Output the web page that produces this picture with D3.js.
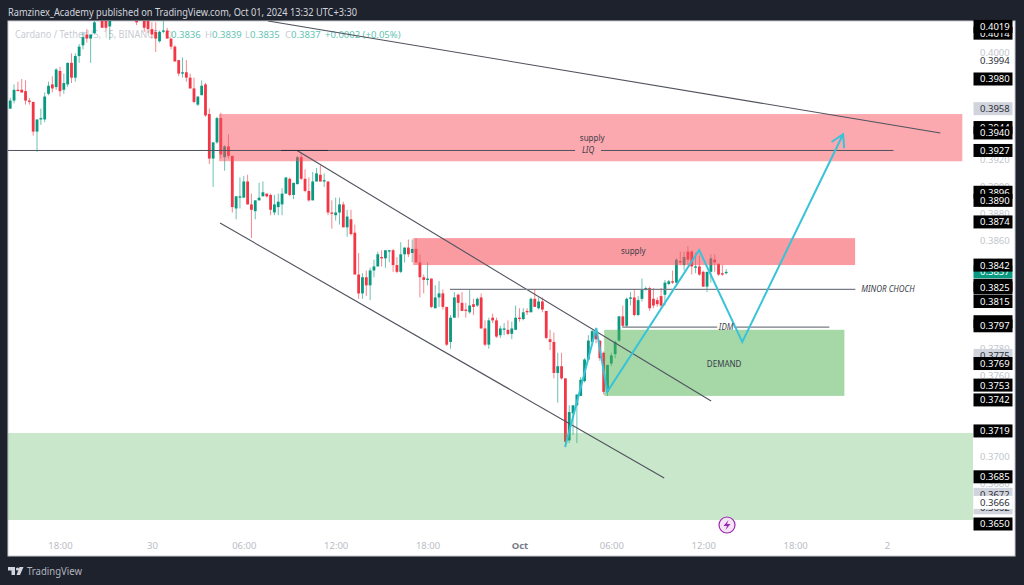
<!DOCTYPE html>
<html>
<head>
<meta charset="utf-8">
<script src="https://cdn.jsdelivr.net/npm/d3@7"></script>
<style>
  html, body { margin: 0; padding: 0; background: #1e222d; overflow: hidden; }
  text { font-family: "Noto Sans", sans-serif; }
</style>
</head>
<body>
<div id="my_dataviz"></div>
<script>
// 15 minute candles, first bar time and one row per bar: open, high, low, close
var firstBar = "2024-09-29T14:45Z";
var candles = [
[0.3958,0.3966,0.3958,0.3964],[0.3964,0.3976,0.3962,0.3972],[0.3972,0.3978,0.3971,0.3971],[0.3972,0.3980,0.3970,0.3970],
[0.3971,0.3979,0.3961,0.3964],[0.3964,0.3966,0.3961,0.3963],[0.3963,0.3963,0.3938,0.3941],[0.3941,0.3950,0.3926,0.3950],
[0.3950,0.3958,0.3946,0.3951],[0.3950,0.3970,0.3948,0.3967],[0.3969,0.3978,0.3968,0.3975],[0.3976,0.3982,0.3970,0.3973],
[0.3974,0.3988,0.3972,0.3987],[0.3986,0.3989,0.3967,0.3971],[0.3972,0.3984,0.3969,0.3977],[0.3976,0.3992,0.3974,0.3992],
[0.3992,0.3999,0.3977,0.3981],[0.3981,0.3999,0.3978,0.3997],[0.3997,0.4006,0.3992,0.4004],[0.4005,0.4015,0.4002,0.4011],
[0.4013,0.4017,0.4007,0.4010],[0.4010,0.4013,0.3992,0.4013],[0.4014,0.4030,0.4013,0.4022],[0.4025,0.4036,0.4024,0.4034],
[0.4036,0.4040,0.4018,0.4018],[0.4030,0.4035,0.4016,0.4018],[0.4019,0.4034,0.4009,0.4030],[0.4030,0.4048,0.4026,0.4044],
[0.4044,0.4056,0.4040,0.4052],[0.4052,0.4062,0.4046,0.4048],[0.4048,0.4058,0.4040,0.4044],[0.4044,0.4050,0.4036,0.4040],
[0.4040,0.4044,0.4030,0.4034],[0.4034,0.4038,0.4020,0.4022],[0.4030,0.4040,0.4026,0.4036],[0.4036,0.4040,0.4015,0.4018],
[0.4030,0.4034,0.4014,0.4017],[0.4017,0.4022,0.4010,0.4013],[0.4015,0.4022,0.4000,0.4010],[0.4008,0.4016,0.4007,0.4015],
[0.4015,0.4024,0.4014,0.4016],[0.4016,0.4018,0.4010,0.4010],[0.4010,0.4010,0.4002,0.4004],[0.4004,0.4005,0.3993,0.3993],
[0.3994,0.3994,0.3982,0.3984],[0.3984,0.3996,0.3981,0.3985],[0.3985,0.3994,0.3978,0.3981],[0.3981,0.3984,0.3973,0.3973],
[0.3973,0.3981,0.3962,0.3963],[0.3961,0.3967,0.3960,0.3967],[0.3968,0.3979,0.3968,0.3975],[0.3976,0.3977,0.3952,0.3953],
[0.3954,0.3958,0.3917,0.3921],[0.3921,0.3933,0.3900,0.3933],[0.3933,0.3952,0.3932,0.3951],[0.3951,0.3955,0.3921,0.3924],
[0.3922,0.3931,0.3912,0.3930],[0.3930,0.3939,0.3921,0.3923],[0.3923,0.3923,0.3881,0.3885],[0.3884,0.3893,0.3876,0.3893],
[0.3892,0.3907,0.3884,0.3893],[0.3892,0.3908,0.3892,0.3904],[0.3904,0.3909,0.3887,0.3887],[0.3887,0.3895,0.3862,0.3883],
[0.3882,0.3890,0.3876,0.3890],[0.3890,0.3903,0.3890,0.3892],[0.3893,0.3904,0.3893,0.3896],[0.3895,0.3895,0.3892,0.3893],
[0.3894,0.3895,0.3879,0.3883],[0.3881,0.3894,0.3879,0.3887],[0.3885,0.3895,0.3879,0.3889],[0.3887,0.3899,0.3879,0.3895],
[0.3895,0.3907,0.3895,0.3907],[0.3906,0.3907,0.3893,0.3894],[0.3894,0.3903,0.3891,0.3903],[0.3902,0.3923,0.3902,0.3922],
[0.3922,0.3925,0.3905,0.3906],[0.3906,0.3913,0.3896,0.3897],[0.3897,0.3907,0.3889,0.3890],[0.3890,0.3911,0.3890,0.3904],
[0.3904,0.3914,0.3904,0.3910],[0.3909,0.3916,0.3904,0.3904],[0.3904,0.3910,0.3900,0.3905],[0.3904,0.3904,0.3879,0.3881],
[0.3881,0.3890,0.3869,0.3880],[0.3879,0.3892,0.3875,0.3881],[0.3881,0.3892,0.3872,0.3887],[0.3887,0.3889,0.3870,0.3870],
[0.3870,0.3883,0.3863,0.3878],[0.3876,0.3883,0.3864,0.3865],[0.3866,0.3872,0.3835,0.3835],[0.3835,0.3851,0.3817,0.3821],
[0.3821,0.3836,0.3817,0.3833],[0.3833,0.3838,0.3819,0.3827],[0.3827,0.3840,0.3816,0.3838],[0.3838,0.3846,0.3833,0.3841],
[0.3841,0.3852,0.3841,0.3850],[0.3848,0.3853,0.3841,0.3847],[0.3847,0.3853,0.3840,0.3853],[0.3852,0.3853,0.3844,0.3853],
[0.3853,0.3854,0.3837,0.3842],[0.3842,0.3848,0.3836,0.3837],[0.3837,0.3859,0.3836,0.3850],[0.3850,0.3855,0.3844,0.3855],
[0.3855,0.3861,0.3848,0.3850],[0.3851,0.3861,0.3844,0.3854],[0.3854,0.3862,0.3844,0.3844],[0.3844,0.3850,0.3818,0.3833],
[0.3833,0.3835,0.3821,0.3831],[0.3831,0.3844,0.3827,0.3832],[0.3832,0.3832,0.3810,0.3811],[0.3810,0.3827,0.3810,0.3818],
[0.3818,0.3830,0.3811,0.3821],[0.3821,0.3824,0.3809,0.3811],[0.3811,0.3811,0.3782,0.3783],[0.3785,0.3805,0.3780,0.3803],
[0.3803,0.3822,0.3803,0.3818],[0.3820,0.3821,0.3803,0.3814],[0.3814,0.3822,0.3808,0.3808],[0.3809,0.3814,0.3803,0.3808],
[0.3807,0.3824,0.3806,0.3812],[0.3813,0.3817,0.3805,0.3811],[0.3812,0.3818,0.3811,0.3817],[0.3818,0.3821,0.3795,0.3795],
[0.3795,0.3801,0.3782,0.3783],[0.3783,0.3803,0.3780,0.3801],[0.3803,0.3806,0.3799,0.3801],[0.3801,0.3803,0.3788,0.3789],
[0.3790,0.3797,0.3788,0.3795],[0.3794,0.3799,0.3790,0.3795],[0.3794,0.3801,0.3790,0.3791],[0.3791,0.3800,0.3787,0.3795],
[0.3794,0.3812,0.3794,0.3803],[0.3803,0.3810,0.3800,0.3802],[0.3802,0.3810,0.3801,0.3807],[0.3808,0.3810,0.3805,0.3807],
[0.3807,0.3818,0.3807,0.3817],[0.3817,0.3824,0.3811,0.3811],[0.3810,0.3818,0.3809,0.3815],[0.3815,0.3818,0.3807,0.3809],
[0.3808,0.3808,0.3787,0.3788],[0.3787,0.3794,0.3779,0.3785],[0.3785,0.3792,0.3758,0.3762],[0.3762,0.3777,0.3740,0.3767],
[0.3767,0.3777,0.3757,0.3758],[0.3758,0.3758,0.3707,0.3711],[0.3712,0.3738,0.3710,0.3733],[0.3732,0.3738,0.3716,0.3738],
[0.3738,0.3746,0.3710,0.3746],[0.3745,0.3759,0.3745,0.3757],[0.3756,0.3773,0.3755,0.3772],[0.3772,0.3790,0.3772,0.3786],
[0.3785,0.3794,0.3785,0.3793],[0.3793,0.3795,0.3784,0.3787],[0.3786,0.3786,0.3771,0.3773],[0.3777,0.3778,0.3746,0.3748],
[0.3748,0.3768,0.3745,0.3768],[0.3769,0.3777,0.3767,0.3775],[0.3776,0.3786,0.3773,0.3785],[0.3786,0.3804,0.3785,0.3804],
[0.3804,0.3812,0.3796,0.3797],[0.3797,0.3818,0.3796,0.3817],[0.3817,0.3822,0.3812,0.3818],[0.3818,0.3824,0.3804,0.3805],
[0.3805,0.3819,0.3804,0.3816],[0.3817,0.3832,0.3815,0.3824],[0.3824,0.3826,0.3823,0.3825],[0.3825,0.3826,0.3808,0.3810],
[0.3817,0.3825,0.3810,0.3812],[0.3816,0.3818,0.3811,0.3813],[0.3819,0.3825,0.3810,0.3812],[0.3820,0.3831,0.3812,0.3829],
[0.3828,0.3831,0.3827,0.3830],[0.3830,0.3838,0.3828,0.3829],[0.3829,0.3847,0.3828,0.3846],[0.3845,0.3852,0.3842,0.3844],
[0.3842,0.3852,0.3838,0.3848],[0.3852,0.3856,0.3842,0.3846],[0.3852,0.3853,0.3835,0.3841],[0.3840,0.3851,0.3836,0.3841],
[0.3841,0.3849,0.3834,0.3835],[0.3837,0.3838,0.3826,0.3826],[0.3826,0.3837,0.3822,0.3837],[0.3837,0.3850,0.3829,0.3847],
[0.3846,0.3850,0.3837,0.3844],[0.3843,0.3843,0.3834,0.3835],[0.3836,0.3842,0.3834,0.3835],[0.3836,0.3839,0.3835,0.3837]
];

// Price scale labels
var priceTicks = [0.4000, 0.3920, 0.3900, 0.3880, 0.3860, 0.3780, 0.3760, 0.3700, 0.3680];
var plainTags = [0.3994];
var greyTags = [0.3958, 0.3775, 0.3672, 0.3662];
var whiteTags = [0.3666];
var lastPrice = [0.3837];
var blankTags = [0.3800];
var blackTags = [0.4014, 0.4019, 0.3980, 0.3944, 0.3940, 0.3927, 0.3896, 0.3890, 0.3874, 0.3827, 0.3842,
    0.3825, 0.3815, 0.3797, 0.3769, 0.3753, 0.3742, 0.3719, 0.3685, 0.3650];

// Time scale labels
var timeTicks = ["2024-09-29T18:00Z", "2024-09-30T00:00Z", "2024-09-30T06:00Z", "2024-09-30T12:00Z", "2024-09-30T18:00Z",
    "2024-10-01T00:00Z", "2024-10-01T06:00Z", "2024-10-01T12:00Z", "2024-10-01T18:00Z", "2024-10-02T00:00Z"];
var timeLabels = ["18:00", "30", "06:00", "12:00", "18:00", "Oct", "06:00", "12:00", "18:00", "2"];

// Boxes drawn on the chart: start, end, top price, bottom price
var supplyTop = ["2024-09-30T04:23Z", "2024-10-02T04:55Z", 0.3954, 0.3919];
var supplyMid = ["2024-09-30T17:04Z", "2024-10-01T21:55Z", 0.3862, 0.3842];
var demandBox = ["2024-10-01T05:32Z", "2024-10-01T21:13Z", 0.3794, 0.3745];
var demandLow = ["2024-09-29T14:36Z", "2024-10-02T05:38Z", 0.37175, 0.3653];

// Trend lines: [time, price] end points
var topLine = [["2024-09-30T07:35Z", 0.4023], ["2024-10-02T03:29Z", 0.3940]];
var channelUp = [["2024-09-30T09:29Z", 0.3927], ["2024-10-01T12:31Z", 0.37412]];
var channelDown = [["2024-09-30T04:27Z", 0.38732], ["2024-10-01T09:27Z", 0.36841]];
var liqLeft = [["2024-09-29T14:36Z", 0.3927], ["2024-10-01T03:38Z", 0.3927]];
var liqRight = [["2024-10-01T05:20Z", 0.3927], ["2024-10-02T00:25Z", 0.3927]];
var liqShort = [["2024-09-30T08:26Z", 0.3927], ["2024-09-30T11:30Z", 0.3927]];
var chochLine = [["2024-09-30T19:28Z", 0.3824], ["2024-10-01T21:56Z", 0.3824]];
var idmLeft = [["2024-10-01T06:43Z", 0.3796], ["2024-10-01T12:55Z", 0.3796]];
var idmRight = [["2024-10-01T14:01Z", 0.3796], ["2024-10-01T20:14Z", 0.3796]];

// Projected path with the arrow at its end
var zigzag = [["2024-10-01T02:59Z", 0.37071], ["2024-10-01T05:01Z", 0.37954], ["2024-10-01T05:44Z", 0.3748],
    ["2024-10-01T11:44Z", 0.38532], ["2024-10-01T14:33Z", 0.3785], ["2024-10-01T21:08Z", 0.3939]];

var width = 1024, height = 585;
var chart = { left: 8, right: 973, top: 21, bottom: 556, edge: 1015 };
var green = "#089981", red = "#f23645", cyan = "#38c3d8";

var svg = d3.select("#my_dataviz")
    .append("svg")
    .attr("width", width)
    .attr("height", height)
    .style("display", "block");

var parse = d3.isoParse;

// 18:00 on the 29th sits at x=60, midnight on the 2nd at x=887
var x = d3.scaleUtc()
    .domain([parse(timeTicks[0]), parse(timeTicks[9])])
    .range([60, 887]);

var y = d3.scaleLinear()
    .domain([0.3980, 0.3650])
    .range([79, 524]);

var barMs = 15 * 60 * 1000;
var barStart = parse(firstBar).getTime();

// White panel behind chart and price scale
svg.append("rect")
    .attr("x", chart.left)
    .attr("y", chart.top)
    .attr("width", chart.edge - chart.left)
    .attr("height", chart.bottom - chart.top)
    .attr("fill", "#ffffff")
    .attr("stroke", "#c9cbd1")
    .attr("stroke-width", 1);

svg.append("clipPath").attr("id", "plot")
    .append("rect")
    .attr("x", chart.left)
    .attr("y", chart.top)
    .attr("width", chart.right - chart.left)
    .attr("height", chart.bottom - chart.top);

var plot = svg.append("g").attr("clip-path", "url(#plot)");

// Legend sits under the candles
plot.append("text")
    .attr("x", 15)
    .attr("y", 37.5)
    .attr("font-size", "10.5px")
    .attr("textLength", 143)
    .attr("lengthAdjust", "spacingAndGlyphs")
    .attr("fill", "#c9ccd3")
    .text("Cardano / TetherUS, 15, BINANCE");

var legendValues = [["O", "0.3836", 165, 171], ["H", "0.3839", 205, 212], ["L", "0.3835", 245, 250], ["C", "0.3837", 285, 291]];
legendValues.forEach(function (d) {
    plot.append("text")
        .attr("x", d[2])
        .attr("y", 37.5)
        .attr("font-size", "9.5px")
        .attr("fill", "#c9ccd3")
        .text(d[0]);
    plot.append("text")
        .attr("x", d[3])
        .attr("y", 37.5)
        .attr("font-size", "9.5px")
        .attr("fill", "#62c4b3")
        .text(d[1]);
});
plot.append("text")
    .attr("x", 325)
    .attr("y", 37.5)
    .attr("font-size", "9.5px")
    .attr("fill", "#62c4b3")
    .text("+0.0002 (+0.05%)");

// Candles
var bars = plot.selectAll("g.bar")
    .data(candles)
    .enter()
    .append("g")
    .attr("class", "bar")
    .attr("transform", function (d, i) { return "translate(" + x(new Date(barStart + i * barMs)) + ",0)"; })
    .attr("fill", function (d) { return d[3] >= d[0] ? green : red; })
    .attr("stroke", function (d) { return d[3] >= d[0] ? green : red; });

bars.append("line")
    .attr("y1", function (d) { return y(d[1]); })
    .attr("y2", function (d) { return y(d[2]); })
    .attr("stroke-width", 1)
    .attr("stroke-opacity", 0.6);

bars.append("rect")
    .attr("x", -1.4)
    .attr("width", 2.8)
    .attr("y", function (d) { return y(Math.max(d[0], d[3])); })
    .attr("height", function (d) { return Math.max(1.2, Math.abs(y(d[0]) - y(d[3]))); })
    .attr("stroke", "none");

// Zones are see-through so the candles show under them
function drawZone(zone, fill, opacity) {
    plot.append("rect")
        .attr("x", x(parse(zone[0])))
        .attr("width", x(parse(zone[1])) - x(parse(zone[0])))
        .attr("y", y(zone[2]))
        .attr("height", y(zone[3]) - y(zone[2]))
        .attr("fill", fill)
        .attr("fill-opacity", opacity);
}
drawZone(supplyTop, "#f7525f", 0.5);
drawZone(supplyMid, "#f7525f", 0.58);
drawZone(demandBox, "#4caf50", 0.5);
drawZone(demandLow, "#4caf50", 0.3);

var line = d3.line()
    .x(function (d) { return x(parse(d[0])); })
    .y(function (d) { return y(d[1]); });

function drawLine(points, color, w) {
    return plot.append("path")
        .attr("d", line(points))
        .attr("fill", "none")
        .attr("stroke", color)
        .attr("stroke-width", w);
}
drawLine(topLine, "#50535e", 1.1);
drawLine(channelUp, "#50535e", 1.1);
drawLine(channelDown, "#50535e", 1.1);
drawLine(liqLeft, "#50535e", 1);
drawLine(liqRight, "#50535e", 1);
drawLine(liqShort, "#2a2e39", 1);
drawLine(chochLine, "#787b86", 1.2);
drawLine(idmLeft, "#787b86", 1.2);
drawLine(idmRight, "#787b86", 1.2);

// Arrow head of the projected path
svg.append("marker")
    .attr("id", "arrow")
    .attr("markerUnits", "userSpaceOnUse")
    .attr("viewBox", "-14 -9 16 18")
    .attr("markerWidth", 16)
    .attr("markerHeight", 18)
    .attr("orient", "auto")
    .append("path")
    .attr("d", "M-12,-7L0,0L-12,7")
    .attr("fill", "none")
    .attr("stroke", cyan)
    .attr("stroke-width", 2);

drawLine(zigzag, cyan, 2).attr("marker-end", "url(#arrow)");

// Text notes on the chart
function note(label, time, price, style, anchor) {
    plot.append("text")
        .attr("x", x(parse(time)))
        .attr("y", y(price) + 3)
        .attr("text-anchor", anchor || "middle")
        .attr("font-size", "8px")
        .attr("font-style", style || "normal")
        .attr("fill", "#3a3d47")
        .text(label);
}
note("supply", "2024-10-01T04:45Z", 0.39362);
note("supply", "2024-10-01T07:26Z", 0.38524);
note("LIQ", "2024-10-01T04:29Z", 0.3927, "italic");
note("MINOR CHOCH", "2024-10-01T22:19Z", 0.3824, "italic", "start");
note("IDM", "2024-10-01T13:30Z", 0.3796, "italic");
note("DEMAND", "2024-10-01T13:22Z", 0.3769);

// Price scale ticks
var priceAxis = d3.axisRight(y)
    .tickValues(priceTicks)
    .tickSize(0)
    .tickPadding(0)
    .tickFormat(d3.format(".4f"));

svg.append("g")
    .attr("transform", "translate(980,0)")
    .call(priceAxis)
    .call(function (g) { g.select(".domain").remove(); })
    .selectAll("text")
    .attr("font-family", "Noto Sans")
    .attr("font-size", "9.5px")
    .attr("fill", "#c3c6ce");

// Price tags in their stacking order
function drawTags(values, fill, textColor) {
    var tag = svg.append("g").selectAll("g")
        .data(values)
        .enter()
        .append("g")
        .attr("transform", function (d) { return "translate(0," + y(d) + ")"; });
    if (fill) {
        tag.append("rect")
            .attr("x", 973.5)
            .attr("y", -6.5)
            .attr("width", 39)
            .attr("height", 13)
            .attr("fill", fill);
    }
    if (textColor) {
        tag.append("text")
            .attr("x", 980)
            .attr("dy", "0.36em")
            .attr("font-size", "9.5px")
            .attr("fill", textColor)
            .text(d3.format(".4f"));
    }
}
drawTags(greyTags, "#d1d4dc", "#2a2e39");
drawTags(whiteTags, "#ffffff", "#2a2e39");
drawTags(plainTags, null, "#2a2e39");
drawTags(lastPrice, green, "#ffffff");
drawTags(blankTags, "#000000", null);
drawTags(blackTags, "#000000", "#ffffff");

// Time scale
var timeAxis = d3.axisBottom(x)
    .tickValues(timeTicks.map(parse))
    .tickSize(0)
    .tickPadding(0)
    .tickFormat(function (d, i) { return timeLabels[i]; });

svg.append("g")
    .attr("transform", "translate(0,542)")
    .call(timeAxis)
    .call(function (g) { g.select(".domain").remove(); })
    .selectAll("text")
    .attr("font-family", "Noto Sans")
    .attr("font-size", "9.5px")
    .attr("fill", function (d, i) { return timeLabels[i] === "Oct" ? "#787b86" : "#b9bcc5"; })
    .attr("font-weight", function (d, i) { return timeLabels[i] === "Oct" ? "bold" : "normal"; });

// Flash icon near the bottom of the chart
svg.append("circle")
    .attr("cx", 727)
    .attr("cy", 525)
    .attr("r", 8)
    .attr("fill", "#f3e5f5")
    .attr("stroke", "#9c27b0")
    .attr("stroke-width", 1.2);
svg.append("path")
    .attr("d", "M728.5,520L723.5,526H727L725.5,530L730.5,524H727Z")
    .attr("fill", "#9c27b0");

// Header and footer
svg.append("text")
    .attr("x", 8)
    .attr("y", 16)
    .attr("font-size", "10px")
    .attr("textLength", 349)
    .attr("lengthAdjust", "spacingAndGlyphs")
    .attr("fill", "#d1d4dc")
    .text("Ramzinex_Academy published on TradingView.com, Oct 01, 2024 13:32 UTC+3:30");

svg.append("path")
    .attr("d", "M8,567H15V575H11.5V570.5H8ZM19.5,567H23.5L20,575H16.5Z")
    .attr("fill", "#d1d4dc");
svg.append("circle")
    .attr("cx", 17.5)
    .attr("cy", 569)
    .attr("r", 1.6)
    .attr("fill", "#d1d4dc");
svg.append("text")
    .attr("x", 27)
    .attr("y", 575)
    .attr("font-size", "11px")
    .attr("textLength", 55)
    .attr("lengthAdjust", "spacingAndGlyphs")
    .attr("fill", "#b2b5be")
    .text("TradingView");
</script>
</body>
</html>
